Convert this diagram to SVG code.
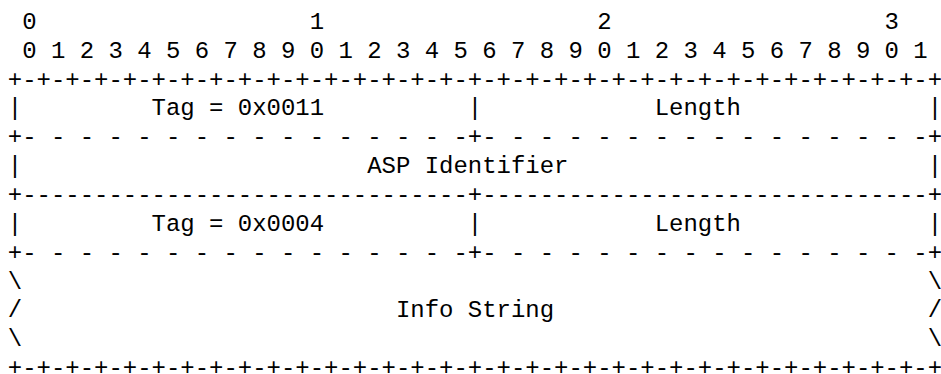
<svg xmlns="http://www.w3.org/2000/svg" width="941" height="374" viewBox="0 0 941 374">
<style>
text { font-family: "Liberation Mono", "Courier New", monospace; font-size: 23.96px; fill: #000; white-space: pre; }
</style>
<rect width="941" height="374" fill="#fff"/>
<g id="diagram" xml:space="preserve">
<text x="7.8" y="28.9"> 0                   1                   2                   3</text>
<text x="7.8" y="57.8"> 0 1 2 3 4 5 6 7 8 9 0 1 2 3 4 5 6 7 8 9 0 1 2 3 4 5 6 7 8 9 0 1</text>
<text x="7.8" y="86.6">+-+-+-+-+-+-+-+-+-+-+-+-+-+-+-+-+-+-+-+-+-+-+-+-+-+-+-+-+-+-+-+-+</text>
<text x="7.8" y="115.4">|         Tag = 0x0011          |            Length             |</text>
<text x="7.8" y="144.3">+- - - - - - - - - - - - - - - -+- - - - - - - - - - - - - - - -+</text>
<text x="7.8" y="173.1">|                        ASP Identifier                         |</text>
<text x="7.8" y="202">+-------------------------------+-------------------------------+</text>
<text x="7.8" y="230.8">|         Tag = 0x0004          |            Length             |</text>
<text x="7.8" y="259.7">+- - - - - - - - - - - - - - - -+- - - - - - - - - - - - - - - -+</text>
<text x="7.8" y="288.5">\                                                               \</text>
<text x="7.8" y="317.4">/                          Info String                          /</text>
<text x="7.8" y="346.2">\                                                               \</text>
<text x="7.8" y="374.6">+-+-+-+-+-+-+-+-+-+-+-+-+-+-+-+-+-+-+-+-+-+-+-+-+-+-+-+-+-+-+-+-+</text>
</g>
</svg>
